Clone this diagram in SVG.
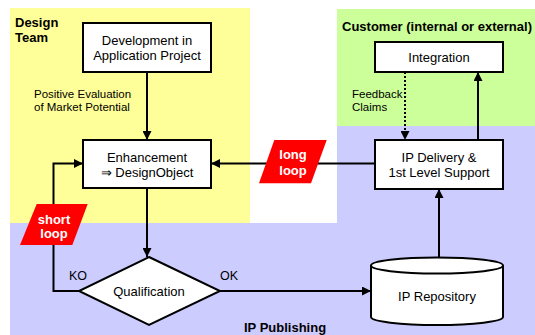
<svg xmlns="http://www.w3.org/2000/svg" width="535" height="335" viewBox="0 0 535 335">
<defs>
<marker id="arr" viewBox="0 0 10 10" refX="10" refY="5" markerWidth="9" markerHeight="9" markerUnits="userSpaceOnUse" orient="auto">
<path d="M0,0 L10,5 L0,10 z" fill="#000"/>
</marker>
<style>
.box{fill:#fff;stroke:#000;stroke-width:2}
.t{font-family:"Liberation Sans",Arial,sans-serif;font-size:13px;fill:#000;text-anchor:middle}
.lbl{font-family:"Liberation Sans",Arial,sans-serif;font-size:11.5px;fill:#000}
.hd{font-family:"Liberation Sans",Arial,sans-serif;font-size:13px;font-weight:bold;fill:#000}
.loop{fill:#ff0000}
.lt{font-family:"Liberation Sans",Arial,sans-serif;font-size:13px;font-weight:bold;fill:#fff;text-anchor:middle}
.c{fill:none;stroke:#000;stroke-width:2;marker-end:url(#arr)}
</style>
</defs>
<g id="regions">
<rect x="10" y="8" width="240" height="215" fill="#ffff99"/>
<rect x="337" y="9" width="198" height="117" fill="#ccff99"/>
<path d="M337,126 H535 V335 H10 V223 H337 Z" fill="#ccccff"/>
<text class="hd" x="15" y="27">Design</text>
<text class="hd" x="15" y="42">Team</text>
<text class="hd" x="342" y="31">Customer (internal or external)</text>
<text class="hd" x="244" y="331.5">IP Publishing</text>
</g>
<g id="connectors">
<line class="c" x1="147" y1="72" x2="147" y2="140"/>
<line class="c" x1="147" y1="188" x2="147" y2="257"/>
<path class="c" d="M79,291 H53.5 V163.5 H83"/>
<line class="c" x1="220" y1="291" x2="371" y2="291"/>
<line class="c" x1="439" y1="258" x2="439" y2="189"/>
<line class="c" x1="478" y1="140" x2="478" y2="72"/>
<line class="c" x1="405" y1="72" x2="405" y2="140" stroke-dasharray="2,2"/>
<line class="c" x1="375" y1="163.5" x2="211" y2="163.5"/>
<text class="lbl" x="34" y="98">Positive Evaluation</text>
<text class="lbl" x="34" y="111">of Market Potential</text>
<text class="lbl" x="352" y="98">Feedback</text>
<text class="lbl" x="352" y="111">Claims</text>
<text class="t" x="78" y="280" style="font-size:12.5px">KO</text>
<text class="t" x="229" y="280" style="font-size:12.5px">OK</text>
</g>
<g id="dev">
<rect class="box" x="83" y="23" width="128" height="49"/>
<text class="t" x="147" y="45">Development in</text>
<text class="t" x="147" y="60">Application Project</text>
</g>
<g id="enh">
<rect class="box" x="83" y="140" width="128" height="48"/>
<text class="t" x="147" y="161.5">Enhancement</text>
<text class="t" x="147" y="176.5">⇒ DesignObject</text>
</g>
<g id="integration">
<rect class="box" x="375" y="42" width="128" height="30"/>
<text class="t" x="439" y="61.5">Integration</text>
</g>
<g id="delivery">
<rect class="box" x="375" y="140" width="128" height="49"/>
<text class="t" x="439" y="161.5">IP Delivery &amp;</text>
<text class="t" x="439" y="176.5">1st Level Support</text>
</g>
<g id="qual">
<polygon class="box" points="149,257 220,291 149,325 79,291"/>
<text class="t" x="149" y="296">Qualification</text>
</g>
<g id="repo">
<path class="box" d="M371,265.5 V317 A66,8 0 0 0 503,317 V265.5"/>
<ellipse class="box" cx="437" cy="265.5" rx="66" ry="8"/>
<text class="t" x="437" y="301">IP Repository</text>
</g>
<g id="longloop">
<polygon class="loop" points="274.3,140 326.7,140 311,183.3 259,183.3"/>
<text class="lt" x="293" y="159">long</text>
<text class="lt" x="293" y="175">loop</text>
</g>
<g id="shortloop">
<polygon class="loop" points="36.7,204 87.7,204 72.3,245 20,245"/>
<text class="lt" x="54" y="224">short</text>
<text class="lt" x="54" y="238">loop</text>
</g>
</svg>
